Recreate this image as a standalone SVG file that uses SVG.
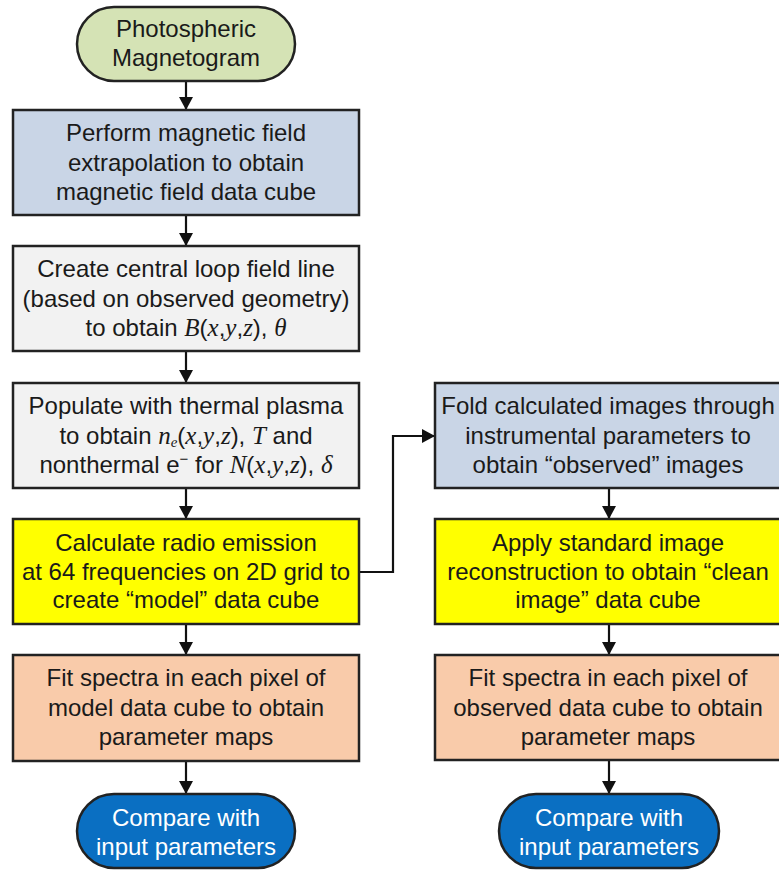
<svg xmlns="http://www.w3.org/2000/svg" width="779" height="871" viewBox="0 0 779 871">
<style>
.box{stroke:#222;stroke-width:2.5}
.t{font-family:"Liberation Sans",Arial,sans-serif;font-size:24px;fill:#1a1a1a;text-anchor:middle}
.w{fill:#ffffff}
.m{font-family:"Liberation Serif","Times New Roman",serif;font-style:italic;font-size:25px}
.c{fill:none;stroke:#111;stroke-width:2.2}
</style>
<defs>
<marker id="ah" markerUnits="userSpaceOnUse" markerWidth="16" markerHeight="14" refX="13" refY="7" orient="auto">
<path d="M0,0 L13,7 L0,14 Z" fill="#111"/>
</marker>
</defs>
<rect width="779" height="871" fill="#ffffff"/>
<g id="connectors">
<line class="c" x1="186" y1="81" x2="186" y2="110" marker-end="url(#ah)"/>
<line class="c" x1="186" y1="215" x2="186" y2="246" marker-end="url(#ah)"/>
<line class="c" x1="186" y1="351" x2="186" y2="383" marker-end="url(#ah)"/>
<line class="c" x1="186" y1="488" x2="186" y2="519" marker-end="url(#ah)"/>
<line class="c" x1="186" y1="624" x2="186" y2="655" marker-end="url(#ah)"/>
<line class="c" x1="186" y1="761" x2="186" y2="794" marker-end="url(#ah)"/>
<polyline class="c" points="359,572 393,572 393,436 435,436" marker-end="url(#ah)"/>
<line class="c" x1="609" y1="488" x2="609" y2="519" marker-end="url(#ah)"/>
<line class="c" x1="609" y1="624" x2="609" y2="655" marker-end="url(#ah)"/>
<line class="c" x1="609" y1="760" x2="609" y2="794" marker-end="url(#ah)"/>
</g>
<g id="start">
<rect class="box" x="77" y="7" width="218" height="74" rx="37" fill="#d5e3b5"/>
<text class="t" x="186" y="37">Photospheric</text>
<text class="t" x="186" y="66">Magnetogram</text>
</g>
<g id="extrapolation">
<rect class="box" x="13" y="110" width="346" height="105" fill="#c9d5e6"/>
<text class="t" x="186" y="141">Perform magnetic field</text>
<text class="t" x="186" y="171">extrapolation to obtain</text>
<text class="t" x="186" y="200">magnetic field data cube</text>
</g>
<g id="loop">
<rect class="box" x="13" y="246" width="346" height="105" fill="#f2f2f2"/>
<text class="t" x="186" y="277">Create central loop field line</text>
<text class="t" x="186" y="307">(based on observed geometry)</text>
<text class="t" x="186" y="336">to obtain <tspan class="m">B</tspan>(<tspan class="m">x</tspan>,<tspan class="m">y</tspan>,<tspan class="m">z</tspan>), <tspan class="m">θ</tspan></text>
</g>
<g id="populate">
<rect class="box" x="13" y="383" width="346" height="105" fill="#f2f2f2"/>
<text class="t" x="186" y="414">Populate with thermal plasma</text>
<text class="t" x="186" y="444">to obtain <tspan class="m">n</tspan><tspan class="m" style="font-size:15px" dy="3">e</tspan><tspan dy="-3">(</tspan><tspan class="m">x</tspan>,<tspan class="m">y</tspan>,<tspan class="m">z</tspan>), <tspan class="m">T</tspan> and</text>
<text class="t" x="186" y="473">nonthermal e<tspan style="font-size:15px" dy="-9">−</tspan><tspan dy="9"> for </tspan><tspan class="m">N</tspan>(<tspan class="m">x</tspan>,<tspan class="m">y</tspan>,<tspan class="m">z</tspan>), <tspan class="m">δ</tspan></text>
</g>
<g id="radio">
<rect class="box" x="13" y="519" width="346" height="105" fill="#ffff00"/>
<text class="t" x="186" y="551">Calculate radio emission</text>
<text class="t" x="186" y="580">at 64 frequencies on 2D grid to</text>
<text class="t" x="186" y="608">create “model” data cube</text>
</g>
<g id="fitmodel">
<rect class="box" x="13" y="655" width="346" height="106" fill="#f9cbaa"/>
<text class="t" x="186" y="686">Fit spectra in each pixel of</text>
<text class="t" x="186" y="716">model data cube to obtain</text>
<text class="t" x="186" y="745">parameter maps</text>
</g>
<g id="compare1">
<rect class="box" x="77" y="794" width="218" height="74" rx="37" fill="#0a6fc2"/>
<text class="t w" x="186" y="826">Compare with</text>
<text class="t w" x="186" y="855">input parameters</text>
</g>
<g id="fold">
<rect class="box" x="435" y="383" width="346" height="105" fill="#c9d5e6"/>
<text class="t" x="608" y="414">Fold calculated images through</text>
<text class="t" x="608" y="444">instrumental parameters to</text>
<text class="t" x="608" y="473">obtain “observed” images</text>
</g>
<g id="reconstruct">
<rect class="box" x="435" y="519" width="346" height="105" fill="#ffff00"/>
<text class="t" x="608" y="551">Apply standard image</text>
<text class="t" x="608" y="580">reconstruction to obtain “clean</text>
<text class="t" x="608" y="608">image” data cube</text>
</g>
<g id="fitobs">
<rect class="box" x="435" y="655" width="346" height="105" fill="#f9cbaa"/>
<text class="t" x="608" y="686">Fit spectra in each pixel of</text>
<text class="t" x="608" y="716">observed data cube to obtain</text>
<text class="t" x="608" y="745">parameter maps</text>
</g>
<g id="compare2">
<rect class="box" x="499" y="794" width="220" height="74" rx="37" fill="#0a6fc2"/>
<text class="t w" x="609" y="826">Compare with</text>
<text class="t w" x="609" y="855">input parameters</text>
</g>
</svg>
